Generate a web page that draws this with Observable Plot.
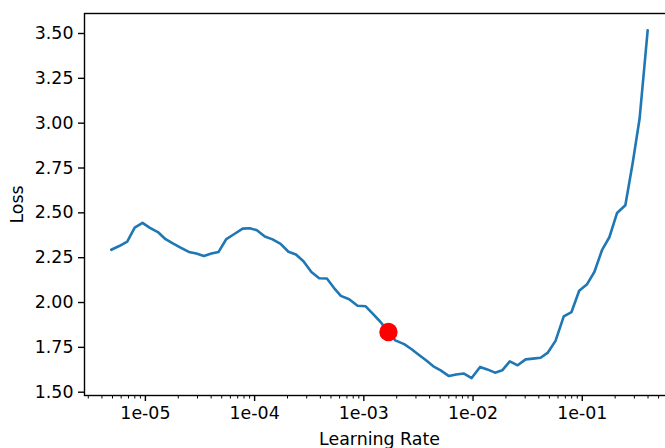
<!DOCTYPE html>
<html><head><meta charset="utf-8">
<script src="https://cdn.jsdelivr.net/npm/d3@7"></script>
<script src="https://cdn.jsdelivr.net/npm/@observablehq/plot@0.6"></script>
<style>
html,body{margin:0;padding:0;background:#fff;}
#chart{width:665px;height:448px;overflow:hidden;}
#chart svg{max-width:none !important;width:675px !important;height:448px !important;}
</style></head><body><div id="chart"></div>
<script>
const learningRates = [
  4.87e-6, 5.76e-6, 6.82e-6, 7.98e-6, 9.41e-6, 1.10e-5, 1.30e-5, 1.53e-5, 1.80e-5, 2.12e-5,
  2.50e-5, 2.93e-5, 3.43e-5, 4.02e-5, 4.68e-5, 5.51e-5, 6.52e-5, 7.78e-5, 9.02e-5, 1.05e-4,
  1.24e-4, 1.46e-4, 1.73e-4, 2.04e-4, 2.39e-4, 2.80e-4, 3.31e-4, 3.90e-4, 4.59e-4, 5.32e-4,
  6.16e-4, 7.34e-4, 8.76e-4, 1.04e-3, 1.23e-3, 1.43e-3, 1.68e-3, 1.94e-3, 2.34e-3, 2.72e-3,
  3.18e-3, 3.71e-3, 4.33e-3, 5.05e-3, 6.02e-3, 7.01e-3, 8.26e-3, 9.71e-3, 1.16e-2, 1.35e-2,
  1.59e-2, 1.85e-2, 2.17e-2, 2.56e-2, 3.03e-2, 3.54e-2, 4.15e-2, 4.81e-2, 5.69e-2, 6.77e-2,
  7.97e-2, 9.37e-2, 0.110, 0.129, 0.152, 0.177, 0.208, 0.248, 0.289, 0.335, 0.397
];
const losses = [
  2.294, 2.315, 2.340, 2.418, 2.444, 2.416, 2.393, 2.353, 2.328, 2.305,
  2.282, 2.273, 2.260, 2.273, 2.282, 2.354, 2.382, 2.412, 2.414, 2.403,
  2.368, 2.352, 2.327, 2.283, 2.268, 2.230, 2.170, 2.135, 2.134, 2.082,
  2.037, 2.018, 1.982, 1.979, 1.933, 1.890, 1.836, 1.789, 1.768, 1.741,
  1.709, 1.678, 1.644, 1.622, 1.590, 1.599, 1.604, 1.579, 1.641, 1.627,
  1.609, 1.622, 1.672, 1.650, 1.683, 1.687, 1.692, 1.719, 1.786, 1.923,
  1.947, 2.066, 2.100, 2.170, 2.294, 2.364, 2.499, 2.542, 2.775, 3.026, 3.518
];
const minGradLr = 1.68e-3;
const minGradLoss = 1.836;

const xTickValues = [1e-5, 1e-4, 1e-3, 1e-2, 1e-1];
const xTickLabels = ["1e-05", "1e-04", "1e-03", "1e-02", "1e-01"];
const yTickValues = [1.5, 1.75, 2.0, 2.25, 2.5, 2.75, 3.0, 3.25, 3.5];
const yTickLabels = ["1.50", "1.75", "2.00", "2.25", "2.50", "2.75", "3.00", "3.25", "3.50"];
const minorDecades = [1e-6, 1e-5, 1e-4, 1e-3, 1e-2, 1e-1];
const minorMultiples = [2, 3, 4, 5, 6, 7, 8, 9];

const xDomain = [2.77e-6, 0.699];
const yDomain = [1.4816, 3.6115];

const data = learningRates.map((lr, i) => ({lr, loss: losses[i]}));
const minorTicks = minorDecades.flatMap(d => minorMultiples.map(m => m * d))
  .filter(t => t >= xDomain[0] && t <= xDomain[1]);

const chart = Plot.plot({
  width: 675, height: 448,
  marginLeft: 84, marginRight: 1, marginTop: 13, marginBottom: 53,
  style: {fontFamily: "DejaVu Sans", fontSize: "17.4px", color: "black", background: "white"},
  x: {type: "log", domain: xDomain},
  y: {domain: yDomain},
  marks: [
    Plot.axisX({ticks: minorTicks, tickSize: 3.5, strokeWidth: 1, text: null, label: null}),
    Plot.axisX({ticks: xTickValues, tickSize: 6, strokeWidth: 1.4, tickPadding: 5,
      tickFormat: d => xTickLabels[xTickValues.indexOf(d)],
      label: "Learning Rate", labelAnchor: "center", labelArrow: "none", labelOffset: 49}),
    Plot.axisY({ticks: yTickValues, tickSize: 6, strokeWidth: 1.4, tickPadding: 5,
      tickFormat: d => yTickLabels[yTickValues.indexOf(d)],
      label: "Loss", labelAnchor: "center", labelArrow: "none", labelOffset: 74}),
    Plot.frame({stroke: "black", strokeWidth: 1.4}),
    Plot.line(data, {x: "lr", y: "loss", stroke: "#1f77b4", strokeWidth: 2.6}),
    Plot.dot([{lr: minGradLr, loss: minGradLoss}], {x: "lr", y: "loss", r: 9.2, fill: "red", stroke: "none"})
  ]
});
document.getElementById("chart").appendChild(chart);
</script></body></html>
